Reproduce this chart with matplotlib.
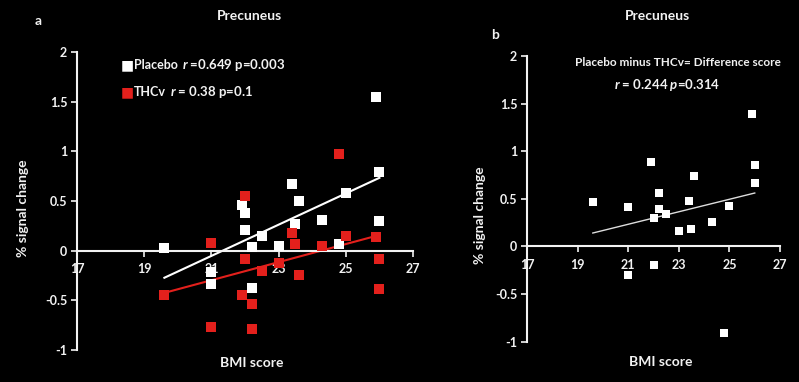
import matplotlib.pyplot as plt
import numpy as np

plt.rcParams["font.family"] = ["Lato", "DejaVu Sans"]
plt.rcParams["mathtext.fontset"] = "custom"
plt.rcParams["mathtext.it"] = "Lato:italic:bold"
plt.rcParams["mathtext.rm"] = "Lato:bold"

# panel a: placebo and THCv vs BMI
bmi_placebo = [19.6, 21.0, 21.0, 21.9, 22.0, 22.0, 22.2, 22.2, 22.5, 23.0,
               23.4, 23.6, 23.5, 24.3, 24.8, 25.0, 25.9, 26.0, 26.0]
sig_placebo = [0.03, -0.21, -0.34, 0.46, 0.38, 0.21, 0.04, -0.38, 0.15, 0.05,
               0.67, 0.50, 0.27, 0.31, 0.07, 0.58, 1.55, 0.79, 0.30]

bmi_thcv = [19.6, 21.0, 21.0, 22.0, 22.0, 21.9, 22.2, 22.2, 22.5, 23.0,
            23.4, 23.5, 23.6, 24.3, 24.8, 25.0, 25.9, 26.0, 26.0]
sig_thcv = [-0.45, 0.08, -0.77, 0.55, -0.08, -0.45, -0.54, -0.79, -0.20, -0.12,
            0.18, 0.07, -0.25, 0.05, 0.97, 0.15, 0.14, -0.08, -0.39]

# panel b: difference score
bmi_diff = [19.6, 21.0, 21.0, 21.9, 22.0, 22.0, 22.2, 22.2, 22.5, 23.0,
            23.4, 23.5, 23.6, 24.3, 24.8, 25.0, 25.9, 26.0, 26.0]
sig_diff = [0.47, 0.41, -0.30, 0.89, 0.30, -0.19, 0.56, 0.39, 0.34, 0.16,
            0.48, 0.18, 0.74, 0.26, -0.91, 0.42, 1.39, 0.85, 0.67]

x_ticks = [17, 19, 21, 23, 25, 27]
y_ticks = [-1, -0.5, 0, 0.5, 1, 1.5, 2]
y_ticklabels = ["-1", "-0.5", "0", "0.5", "1", "1.5", "2"]

RED = "#e3201c"
FG = "#f2f2f2"
BG = "black"


def fit_line(ax, x, y, color, lw):
    x = np.asarray(x)
    k, b = np.polyfit(x, y, 1)
    xs = np.array([x.min(), x.max()])
    ax.plot(xs, k * xs + b, color=color, linewidth=lw, zorder=2)


def style(ax):
    ax.set_facecolor(BG)
    ax.set_xlim(17, 27)
    ax.set_ylim(-1, 2)
    for s in ["top", "right"]:
        ax.spines[s].set_visible(False)
    ax.spines["left"].set_color(FG)
    ax.spines["left"].set_linewidth(1.5)
    ax.spines["bottom"].set_position(("data", 0))
    ax.spines["bottom"].set_color(FG)
    ax.spines["bottom"].set_linewidth(1.5)
    ax.set_xticks(x_ticks)
    ax.set_yticks(y_ticks)
    ax.set_yticklabels(y_ticklabels)
    ax.tick_params(colors=FG, labelsize=9, length=4, width=1.2, pad=3)
    ax.tick_params(axis="x", pad=5)
    for lab in ax.get_xticklabels() + ax.get_yticklabels():
        lab.set_fontweight("bold")


fig = plt.figure(figsize=(7.99, 3.82), dpi=100, facecolor=BG)

axa = fig.add_axes([0.0964, 0.0838, 0.4205, 0.780])
style(axa)
axa.scatter(bmi_placebo, sig_placebo, marker="s", s=42, color="white", zorder=3, linewidths=0)
axa.scatter(bmi_thcv, sig_thcv, marker="s", s=42, color=RED, zorder=3, linewidths=0)
fit_line(axa, bmi_placebo, sig_placebo, "white", 1.5)
fit_line(axa, bmi_thcv, sig_thcv, RED, 1.5)
axa.set_ylabel("% signal change", color=FG, fontsize=10, fontweight="bold")
axa.yaxis.set_label_coords(-0.143, 0.476)
axa.set_xlabel("BMI score", color=FG, fontsize=10, fontweight="bold")
axa.xaxis.set_label_coords(0.52, -0.025)

fig.text(127 / 799, 1 - 65 / 382, "\u25A0", color="white", fontsize=10, ha="center",
         va="center", family="DejaVu Sans")
fig.text(134 / 799, 1 - 65 / 382, "Placebo", color=FG, fontsize=9, fontweight="bold", va="center")
fig.text(182 / 799, 1 - 65 / 382, "$\\mathit{r}$ =0.649 p=0.003", color=FG, fontsize=9.5,
         fontweight="bold", va="center")
fig.text(127 / 799, 1 - 92 / 382, "\u25A0", color=RED, fontsize=10, ha="center",
         va="center", family="DejaVu Sans")
fig.text(134 / 799, 1 - 92 / 382, "THCv", color=FG, fontsize=9, fontweight="bold", va="center")
fig.text(170 / 799, 1 - 92 / 382, "$\\mathit{r}$ = 0.38 p=0.1", color=FG, fontsize=9.5,
         fontweight="bold", va="center")

fig.text(250 / 799, 1 - 16 / 382, "Precuneus", color=FG, fontsize=10, fontweight="bold",
         ha="center", va="center")
fig.text(38 / 799, 1 - 21 / 382, "a", color=FG, fontsize=10, fontweight="bold",
         ha="center", va="center")

axb = fig.add_axes([0.6596, 0.1055, 0.3167, 0.748])
style(axb)
axb.scatter(bmi_diff, sig_diff, marker="s", s=38, color="white", zorder=3, linewidths=0)
fit_line(axb, bmi_diff, sig_diff, "#dddddd", 1.0)
axb.set_ylabel("% signal change", color=FG, fontsize=10, fontweight="bold")
axb.yaxis.set_label_coords(-0.162, 0.443)
axb.set_xlabel("BMI score", color=FG, fontsize=10, fontweight="bold")
axb.xaxis.set_label_coords(0.53, -0.05)

fig.text(658 / 799, 1 - 16 / 382, "Precuneus", color=FG, fontsize=10, fontweight="bold",
         ha="center", va="center")
fig.text(495 / 799, 1 - 35 / 382, "b", color=FG, fontsize=10, fontweight="bold",
         ha="center", va="center")
fig.text(678 / 799, 1 - 63 / 382, "Placebo minus THCv= Difference score", color=FG,
         fontsize=8.5, fontweight="bold", ha="center", va="center")
fig.text(667 / 799, 1 - 85 / 382, "$\\mathit{r}$ = 0.244 $\\mathit{p}$=0.314", color=FG,
         fontsize=9.5, fontweight="bold", ha="center", va="center")

fig.savefig("out.png", dpi=100, facecolor=BG)
